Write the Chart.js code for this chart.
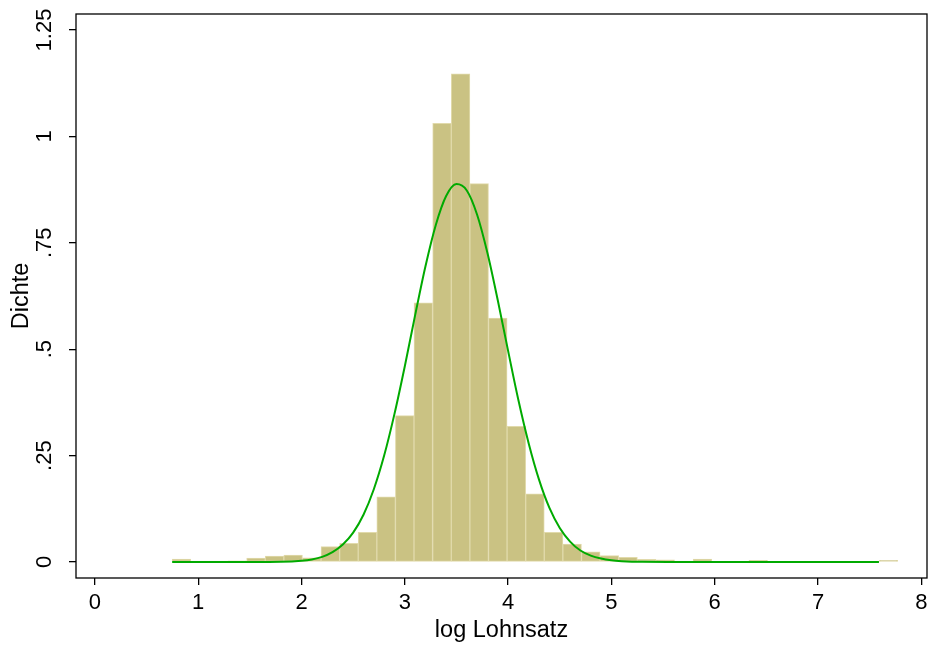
<!doctype html>
<html lang="de">
<head>
<meta charset="utf-8">
<title>log Lohnsatz - Dichte</title>
<script src="https://cdn.jsdelivr.net/npm/chart.js@4.4.1/dist/chart.umd.min.js"></script>
<style>
  html, body { margin: 0; padding: 0; background: #fff; }
  #chart { display: block; }
</style>
</head>
<body>
<canvas id="chart" width="928" height="648"></canvas>
<script>
  // histogram bins (midpoints of log wage bins) and their density
  const binMids = [0.838, 1.018, 1.198, 1.378, 1.559, 1.739, 1.919, 2.099, 2.279, 2.459,
                   2.639, 2.819, 2.999, 3.179, 3.360, 3.540, 3.720, 3.900, 4.080, 4.260,
                   4.440, 4.620, 4.800, 4.980, 5.161, 5.341, 5.521, 5.701, 5.881, 6.061,
                   6.241, 6.421, 6.601, 6.781, 6.962, 7.142, 7.322, 7.502, 7.682]
  const densities = [0.007, 0.002, 0.002, 0.003, 0.009, 0.014, 0.016, 0.010, 0.036, 0.044,
                     0.070, 0.153, 0.344, 0.609, 1.031, 1.147, 0.889, 0.573, 0.319, 0.160,
                     0.070, 0.042, 0.024, 0.015, 0.011, 0.006, 0.005, 0.002, 0.007, 0.001,
                     0.001, 0.004, 0, 0, 0, 0, 0.001, 0, 0.004]

  // normal density overlay
  const curveX = [0.748, 1.5, 1.8, 2.0, 2.1, 2.2, 2.3, 2.4, 2.5, 2.6, 2.7, 2.8, 2.9, 3.0,
                  3.1, 3.2, 3.3, 3.4, 3.5, 3.6, 3.7, 3.8, 3.9, 4.0, 4.1, 4.2, 4.3, 4.4,
                  4.5, 4.6, 4.7, 4.8, 4.9, 5.0, 5.1, 5.3, 5.6, 7.59]
  const curveY = [0, 0.0001, 0.0006, 0.003, 0.006, 0.012, 0.023, 0.041, 0.069, 0.111, 0.171, 0.250, 0.348, 0.460,
                  0.580, 0.695, 0.792, 0.860, 0.888, 0.873, 0.816, 0.726, 0.615, 0.496, 0.380, 0.278, 0.193, 0.127,
                  0.080, 0.048, 0.027, 0.015, 0.008, 0.004, 0.002, 0.0003, 0, 0]

  const xTicks = [0, 1, 2, 3, 4, 5, 6, 7, 8]
  const yTicks = [0, 0.25, 0.5, 0.75, 1, 1.25]
  const yTickLabels = ['0', '.25', '.5', '.75', '1', '1.25']

  const FONT = "'Liberation Sans', Arial, sans-serif"

  const framePlugin = {
    id: 'frame',
    afterDraw(chart) {
      const { ctx, chartArea: a } = chart
      ctx.save()
      ctx.strokeStyle = '#000'
      ctx.lineWidth = 1.3
      ctx.strokeRect(a.left, a.top, a.right - a.left, a.bottom - a.top)
      ctx.restore()
    }
  }

  new Chart(document.getElementById('chart'), {
    type: 'bar',
    data: {
      datasets: [
        {
          type: 'line',
          data: curveX.map((x, i) => ({ x: x, y: curveY[i] })),
          borderColor: '#00aa00',
          borderWidth: 2,
          pointRadius: 0,
          cubicInterpolationMode: 'monotone',
          order: 0
        },
        {
          type: 'bar',
          data: binMids.map((x, i) => ({ x: x, y: densities[i] })),
          backgroundColor: '#cac283',
          borderColor: '#e1daab',
          borderWidth: 1,
          borderSkipped: false,
          barPercentage: 1,
          categoryPercentage: 1,
          order: 1
        }
      ]
    },
    options: {
      responsive: false,
      animation: false,
      layout: { padding: { top: 14, right: 1, left: 0, bottom: 0 } },
      plugins: { legend: { display: false }, tooltip: { enabled: false } },
      scales: {
        x: {
          type: 'linear',
          offset: false,
          min: -0.183,
          max: 8.055,
          afterBuildTicks: s => { s.ticks = xTicks.map(v => ({ value: v })) },
          afterFit: s => { s.height = 70; s.paddingLeft = 0; s.paddingRight = 0 },
          border: { display: false },
          grid: { offset: false, drawOnChartArea: false, drawTicks: true, tickLength: 7, color: '#000', lineWidth: 1.3 },
          ticks: { color: '#000', padding: 5, maxRotation: 0, font: { family: FONT, size: 22 } },
          title: { display: true, text: 'log Lohnsatz', color: '#000', padding: { top: 0, bottom: 3 }, font: { family: FONT, size: 23.5 } }
        },
        y: {
          min: -0.0376,
          max: 1.2876,
          afterBuildTicks: s => { s.ticks = yTicks.map(v => ({ value: v })) },
          afterFit: s => { s.width = 76; s.paddingTop = 0; s.paddingBottom = 0 },
          border: { display: false },
          grid: { drawOnChartArea: false, drawTicks: true, tickLength: 7, color: '#000', lineWidth: 1.3 },
          ticks: {
            color: '#000',
            padding: 3,
            minRotation: 90,
            maxRotation: 90,
            crossAlign: 'center',
            font: { family: FONT, size: 22 },
            callback: v => yTickLabels[yTicks.indexOf(v)]
          },
          title: { display: true, text: 'Dichte', color: '#000', padding: { top: 7, bottom: 0 }, font: { family: FONT, size: 23.5 } }
        }
      }
    },
    plugins: [framePlugin]
  })
</script>
</body>
</html>
